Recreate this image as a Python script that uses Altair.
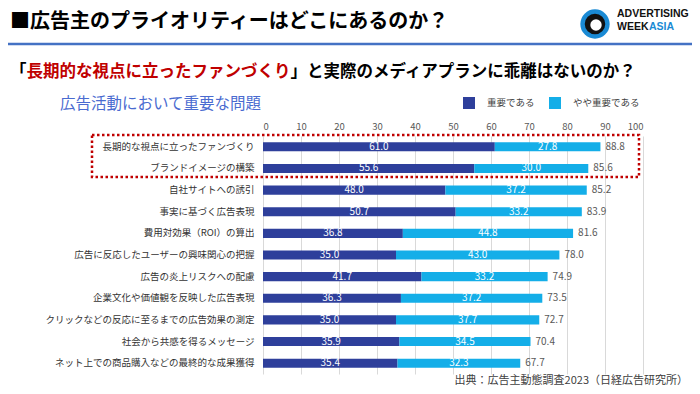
import altair as alt
import pandas as pd

categories = [
    "長期的な視点に立ったファンづくり",
    "ブランドイメージの構築",
    "自社サイトへの誘引",
    "事実に基づく広告表現",
    "費用対効果（ROI）の算出",
    "広告に反応したユーザーの興味関心の把握",
    "広告の炎上リスクへの配慮",
    "企業文化や価値観を反映した広告表現",
    "クリックなどの反応に至るまでの広告効果の測定",
    "社会から共感を得るメッセージ",
    "ネット上での商品購入などの最終的な成果獲得",
]
important = [61.0, 55.6, 48.0, 50.7, 36.8, 35.0, 41.7, 36.3, 35.0, 35.9, 35.4]
somewhat = [27.8, 30.0, 37.2, 33.2, 44.8, 43.0, 33.2, 37.2, 37.7, 34.5, 32.3]
totals = [88.8, 85.6, 85.2, 83.9, 81.6, 78.0, 74.9, 73.5, 72.7, 70.4, 67.7]
series_names = ["重要である", "やや重要である"]
axis_ticks = [0, 10, 20, 30, 40, 50, 60, 70, 80, 90, 100]

title_main = "■広告主のプライオリティーはどこにあるのか？"
sub_a = "「"
sub_b = "長期的な視点に立ったファンづくり"
sub_c = "」と実際のメディアプランに乖離はないのか？"
chart_title = "広告活動において重要な問題"
source_text = "出典：広告主動態調査2023（日経広告研究所）"

series_colors = ["#2E3F9B", "#14AEE8"]
FONT = "Noto Sans CJK JP"

rows = []
for c, a, b in zip(categories, important, somewhat):
    rows.append(dict(cat=c, series=series_names[0], start=0.0, end=a, val=a, mid=a / 2))
    rows.append(dict(cat=c, series=series_names[1], start=a, end=a + b, val=b, mid=a + b / 2))
bars_df = pd.DataFrame(rows)
tot_df = pd.DataFrame(dict(cat=categories, total=totals))
one = pd.DataFrame({"a": [0]})

y_axis = alt.Axis(title=None, domain=False, ticks=False, labelPadding=9,
                  labelFontSize=9.5, labelColor="#333333", labelFont=FONT, labelLimit=300)
y_scale = alt.Scale(paddingInner=0.58, paddingOuter=0.29)
x_scale = alt.Scale(domain=[0, 100], nice=False)
x_axis = alt.Axis(orient="top", values=axis_ticks, title=None, domain=False, ticks=False,
                  labelPadding=5, labelFontSize=9.5, labelColor="#595959", labelFont=FONT,
                  grid=True, gridColor="#d9d9d9", gridWidth=1)

def Y():
    return alt.Y("cat:N", sort=categories, scale=y_scale, axis=y_axis)

bars = alt.Chart(bars_df).mark_bar().encode(
    y=Y(),
    x=alt.X("start:Q", scale=x_scale, axis=x_axis),
    x2="end:Q",
    color=alt.Color("series:N", scale=alt.Scale(domain=series_names, range=series_colors),
                    legend=alt.Legend(orient="none", legendX=200, legendY=-39, direction="horizontal",
                                      title=None, symbolType="square", symbolSize=144,
                                      symbolStrokeWidth=0, labelFontSize=9.5, labelFont=FONT,
                                      labelColor="#404040", labelOffset=12, columnPadding=14,
                                      padding=0)),
)

vals = alt.Chart(bars_df).mark_text(color="white", fontSize=10, font=FONT, baseline="middle").encode(
    y=Y(),
    x=alt.X("mid:Q", scale=x_scale, axis=x_axis),
    text=alt.Text("val:Q", format=".1f"),
)

tots = alt.Chart(tot_df).mark_text(color="#595959", fontSize=10, font=FONT, align="left",
                                   baseline="middle", dx=5).encode(
    y=Y(),
    x=alt.X("total:Q", scale=x_scale, axis=x_axis),
    text=alt.Text("total:Q", format=".1f"),
)

def label(txt, x, y, size, color="#000000", weight="normal", align="left", font=FONT):
    return alt.Chart(one).mark_text(text=txt, fontSize=size, color=color, fontWeight=weight,
                                    align=align, baseline="middle", font=font).encode(
        x=alt.value(x), y=alt.value(y))

header_rule = alt.Chart(one).mark_rule(color="#4472C4", strokeWidth=2.5).encode(
    x=alt.value(-255), x2=alt.value(429), y=alt.value(-92))

box = alt.Chart(one).mark_rect(fillOpacity=0, stroke="#C00000", strokeWidth=2.5,
                               strokeDash=[2.5, 2.5]).encode(
    x=alt.value(-171), x2=alt.value(376), y=alt.value(-1), y2=alt.value(41))

logo_outer = alt.Chart(one).mark_point(filled=True, shape="circle", size=860, color="#1A8AD4",
                                       opacity=1).encode(x=alt.value(332), y=alt.value(-112))
logo_inner = alt.Chart(one).mark_point(filled=True, shape="circle", size=420, color="#111111",
                                       opacity=1).encode(x=alt.value(332), y=alt.value(-112))
logo_head = alt.Chart(one).mark_point(filled=True, shape="circle", size=130, color="#FFFFFF",
                                      opacity=1).encode(x=alt.value(333), y=alt.value(-111))

LOGO_FONT = "Liberation Sans"
texts = [
    label(title_main, -253, -114, 20, weight="bold"),
    label(sub_a, -253, -64, 16.5, weight="bold"),
    label(sub_b, -236.5, -64, 16.5, color="#C00000", weight="bold"),
    label(sub_c, 27.5, -64, 16.5, weight="bold"),
    label(chart_title, -203, -32, 15.5, color="#4A6BD0"),
    label(source_text, 425, 245, 11, color="#404040", align="right"),
    label("ADVERTISING", 354, -122, 10.5, color="#111111", weight="bold", font=LOGO_FONT),
    label("WEEK", 354, -109, 10.5, color="#111111", weight="bold", font=LOGO_FONT),
    label("ASIA", 386, -109, 10.5, color="#1A8AD4", weight="bold", font=LOGO_FONT),
]

chart = alt.layer(
    bars, vals, tots, header_rule, box, logo_outer, logo_inner, logo_head, *texts
).properties(
    width=380, height=238,
    padding={"left": 255, "top": 128, "right": 49, "bottom": 12},
    autosize=alt.AutoSizeParams(type="none"),
    background="white",
).configure_view(stroke=None)

chart.save("out.html", embed_options={"renderer": "svg", "actions": False})
